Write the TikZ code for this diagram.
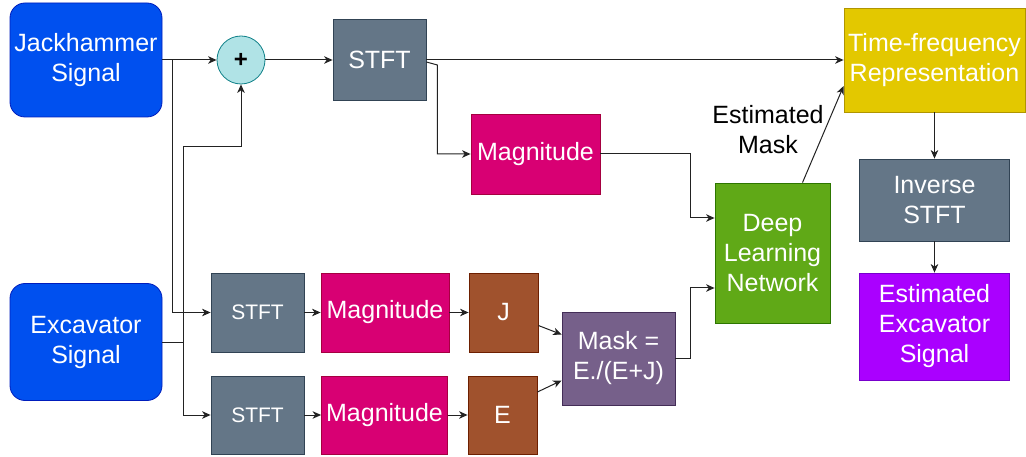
\documentclass[tikz,border=0pt]{standalone}
\usepackage{fontspec}
\setmainfont{Liberation Sans}
\usetikzlibrary{arrows.meta,calc}
\definecolor{bluef}{HTML}{0050EF}\definecolor{blues}{HTML}{001DBC}
\definecolor{greyf}{HTML}{647687}\definecolor{greys}{HTML}{314354}
\definecolor{magf}{HTML}{D80073}\definecolor{mags}{HTML}{A50040}
\definecolor{brownf}{HTML}{A0522D}\definecolor{browns}{HTML}{6D1F00}
\definecolor{purf}{HTML}{76608A}\definecolor{purs}{HTML}{432D57}
\definecolor{greenf}{HTML}{60A917}\definecolor{greens}{HTML}{2D7600}
\definecolor{yelf}{HTML}{E3C800}\definecolor{yels}{HTML}{B09500}
\definecolor{violf}{HTML}{AA00FF}\definecolor{viols}{HTML}{7700CC}
\definecolor{tealf}{HTML}{B0E3E6}\definecolor{teals}{HTML}{0E8088}
\definecolor{linec}{HTML}{222222}
\tikzset{
  box/.style={rectangle,draw,line width=0.8pt,inner sep=0pt,text=white,align=center,
    font=\fontsize{25}{30}\selectfont},
  bluebox/.style={box,fill=bluef,draw=blues,rounded corners=15pt},
  greybox/.style={box,fill=greyf,draw=greys},
  magbox/.style={box,fill=magf,draw=mags},
  brownbox/.style={box,fill=brownf,draw=browns},
  purbox/.style={box,fill=purf,draw=purs},
  greenbox/.style={box,fill=greenf,draw=greens},
  yelbox/.style={box,fill=yelf,draw=yels},
  violbox/.style={box,fill=violf,draw=viols},
  arr/.style={draw=linec,line width=1pt,-{Stealth[length=8.5pt,width=7.5pt,inset=2.5pt]}},
  ln/.style={draw=linec,line width=1pt},
}
\begin{document}
\begin{tikzpicture}[x=1pt,y=-1pt]
\useasboundingbox (0,0) rectangle (1026,457);
% nodes
\node[bluebox,minimum width=152pt,minimum height=114pt] (jack) at (86,60) {Jackhammer\\Signal};
\node[bluebox,minimum width=152pt,minimum height=117pt] (exc) at (86,342) {Excavator\\Signal};
\node[circle,draw=teals,fill=tealf,line width=0.8pt,minimum size=48pt,inner sep=0pt,
      font=\fontsize{24}{24}\selectfont\bfseries] (plus) at (241,60) {+};
\node[greybox,minimum width=93pt,minimum height=81pt] (stft1) at (379.5,60) {STFT};
\node[yelbox,minimum width=181pt,minimum height=104pt] (tf) at (934.5,60) {Time-frequency\\Representation};
\node[magbox,minimum width=129pt,minimum height=80pt] (mag1) at (535.5,154) {Magnitude};
\node[greenbox,minimum width=115pt,minimum height=140pt] (dl) at (772.5,253) {Deep\\Learning\\Network};
\node[greybox,minimum width=150pt,minimum height=82pt] (inv) at (934.5,200) {Inverse\\STFT};
\node[violbox,minimum width=150pt,minimum height=107pt] (est) at (934.5,326.5) {Estimated\\Excavator\\Signal};
\node[greybox,minimum width=93pt,minimum height=79pt,font=\fontsize{21}{25}\selectfont] (stft2) at (257.5,312.5) {STFT};
\node[magbox,minimum width=128pt,minimum height=79pt] (mag2) at (385,312.5) {Magnitude};
\node[brownbox,minimum width=69pt,minimum height=79pt] (J) at (503.5,312.5) {J};
\node[greybox,minimum width=93pt,minimum height=78pt,font=\fontsize{21}{25}\selectfont] (stft3) at (257.5,415) {STFT};
\node[magbox,minimum width=126pt,minimum height=78pt] (mag3) at (384.5,415) {Magnitude};
\node[brownbox,minimum width=69pt,minimum height=78pt] (E) at (502.5,415) {E};
\node[purbox,minimum width=113pt,minimum height=93pt] (mask) at (618.5,358.5) {Mask =\\E./(E+J)};
\node[text=black,align=center,font=\fontsize{25}{30}\selectfont] (lbl) at (768,130) {Estimated\\Mask};
% junctions
\coordinate (j1) at (172,60);
\coordinate (j2) at (183,342);
\coordinate (j3) at (183,147);
% connectors
\draw[arr] (jack.east) -- (plus.west);
\draw[arr] (j1) |- (stft2.west);
\draw[ln] (exc.east) -- (j2);
\draw[arr] (j2) |- (stft3.west);
\draw[arr] (j2) -- (j3) -| (plus.south);
\draw[arr] (plus.east) -- (stft1.west);
\draw[arr] (stft1.east) -- (tf.west);
\draw[arr] ([yshift=-2pt]stft1.east) -- ++(11,3) |- (mag1.west);
\draw[arr] (mag1.east) -- ++(90,0) |- ([yshift=35pt]dl.west);
\draw[arr] (mask.east) -- ++(15,0) |- ([yshift=-35pt]dl.west);
\draw[arr] ([xshift=30pt]dl.north) -- ([yshift=-26pt]tf.west);
\draw[arr] (tf.south) -- (inv.north);
\draw[arr] (inv.south) -- (est.north);
\draw[arr] (stft2.east) -- (mag2.west);
\draw[arr] (mag2.east) -- (J.west);
\draw[arr] (stft3.east) -- (mag3.west);
\draw[arr] (mag3.east) -- (E.west);
\draw[arr] ([yshift=-13pt]J.east) -- ([yshift=24pt]mask.west);
\draw[arr] ([yshift=23pt]E.east) -- ([yshift=-22pt]mask.west);
\end{tikzpicture}
\end{document}
